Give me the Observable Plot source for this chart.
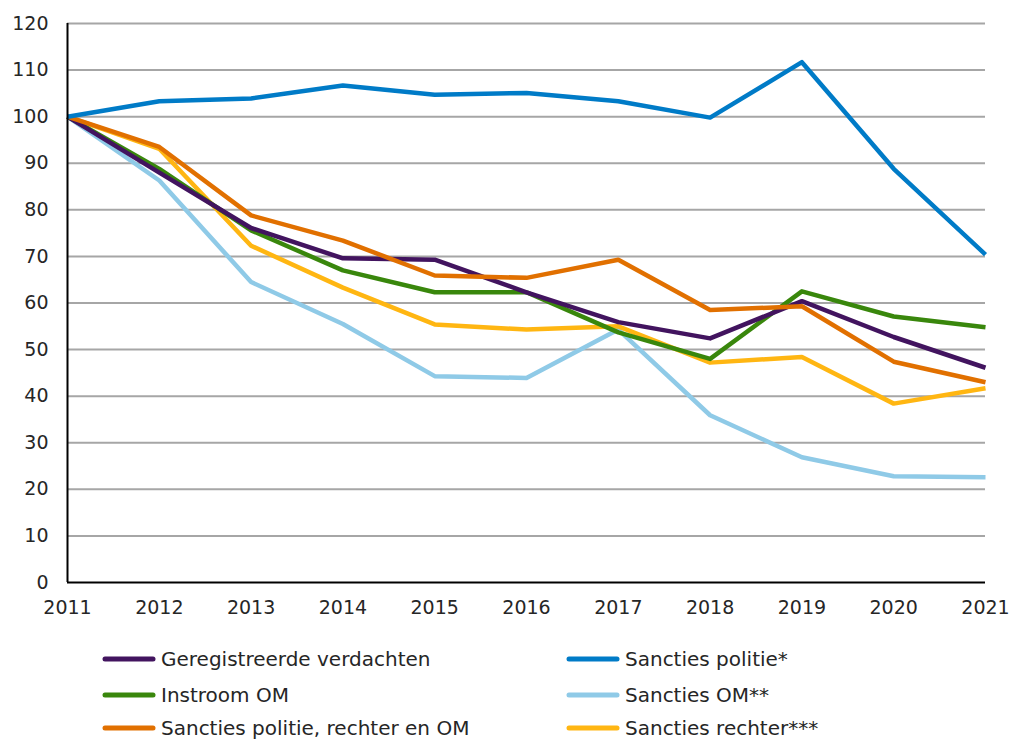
<!DOCTYPE html>
<html>
<head>
<meta charset="utf-8">
<script src="https://cdn.jsdelivr.net/npm/d3@7"></script>
<script src="https://cdn.jsdelivr.net/npm/@observablehq/plot@0.6"></script>
<style>
  html, body { margin: 0; padding: 0; background: #fff; }
  #chart { position: relative; width: 1017px; }
  #legend { position: relative; width: 1017px; height: 122px; font-family: "DejaVu Sans", sans-serif; font-size: 20px; color: #262626; }
  .item { position: absolute; display: flex; align-items: center; white-space: nowrap; }
  .item svg { margin-right: 5px; }
</style>
</head>
<body>
<div id="chart"></div>
<div id="legend"></div>
<script>
const years = [2011, 2012, 2013, 2014, 2015, 2016, 2017, 2018, 2019, 2020, 2021];

const seriesNames = [
  "Geregistreerde verdachten",
  "Sancties politie*",
  "Instroom OM",
  "Sancties OM**",
  "Sancties politie, rechter en OM",
  "Sancties rechter***"
];

const seriesColors = ["#42145f", "#007bc7", "#39870c", "#8fcae7", "#e17000", "#ffb612"];

const geregistreerdeVerdachten = [100, 88.0, 76.1, 69.6, 69.3, 62.3, 55.9, 52.4, 60.4, 52.7, 46.1];
const sanctiesPolitie          = [100, 103.3, 103.9, 106.7, 104.7, 105.1, 103.3, 99.8, 111.7, 88.8, 70.4];
const instroomOM               = [100, 88.8, 75.6, 67.0, 62.3, 62.3, 53.7, 48.0, 62.5, 57.1, 54.8];
const sanctiesOM               = [100, 86.3, 64.5, 55.5, 44.3, 43.9, 54.3, 35.9, 26.9, 22.8, 22.6];
const sanctiesPolitieRechterOM = [100, 93.5, 78.8, 73.4, 65.9, 65.4, 69.3, 58.5, 59.3, 47.4, 43.0];
const sanctiesRechter          = [100, 93.1, 72.3, 63.3, 55.4, 54.3, 55.0, 47.2, 48.4, 38.4, 41.7];

const yTicks = [0, 10, 20, 30, 40, 50, 60, 70, 80, 90, 100, 110, 120];

const valueArrays = [
  geregistreerdeVerdachten,
  sanctiesPolitie,
  instroomOM,
  sanctiesOM,
  sanctiesPolitieRechterOM,
  sanctiesRechter
];

const data = [];
seriesNames.forEach((name, i) => {
  valueArrays[i].forEach((v, j) => data.push({ series: name, year: years[j], value: v }));
});

const drawOrder = [
  "Sancties OM**",
  "Sancties rechter***",
  "Instroom OM",
  "Geregistreerde verdachten",
  "Sancties politie, rechter en OM",
  "Sancties politie*"
];

const chart = Plot.plot({
  width: 1017,
  height: 620,
  marginLeft: 67,
  marginRight: 32,
  marginTop: 23,
  marginBottom: 38,
  style: { fontFamily: "DejaVu Sans, sans-serif", fontSize: "19px", color: "#262626", background: "#fff", overflow: "visible" },
  x: { domain: [2011, 2021], label: null },
  y: { domain: [0, 120], label: null },
  color: { domain: seriesNames, range: seriesColors },
  marks: [
    Plot.ruleY(yTicks.filter(d => d > 0), { stroke: "#a6a6a6", strokeWidth: 2 }),
    Plot.axisY({ ticks: yTicks, tickSize: 0, tickPadding: 19, tickFormat: d => String(d), label: null, fontSize: 19 }),
    Plot.axisX({ ticks: years, tickSize: 0, tickPadding: 18, tickFormat: d => String(d), label: null, fontSize: 19 }),
    ...drawOrder.map(name =>
      Plot.line(data.filter(d => d.series === name), {
        x: "year", y: "value", stroke: "series", strokeWidth: 4.5, strokeLinejoin: "round", strokeLinecap: "butt"
      })
    ),
    Plot.ruleX([2011], { stroke: "#000", strokeWidth: 2 }),
    Plot.ruleY([0], { stroke: "#000", strokeWidth: 2 })
  ]
});
document.getElementById("chart").appendChild(chart);

// legend
const legend = document.getElementById("legend");
const colLeft = [102, 566];
const rowTop = [39, 75, 108];
seriesNames.forEach((name, i) => {
  const col = i % 2, row = Math.floor(i / 2);
  const item = document.createElement("div");
  item.className = "item";
  item.style.left = colLeft[col] + "px";
  item.style.top = (rowTop[row] - 12) + "px";
  item.style.height = "24px";
  item.innerHTML = `<svg width="54" height="10"><line x1="3" x2="51" y1="5" y2="5" stroke="${seriesColors[i]}" stroke-width="5" stroke-linecap="round"/></svg><span>${name}</span>`;
  legend.appendChild(item);
});
</script>
</body>
</html>
